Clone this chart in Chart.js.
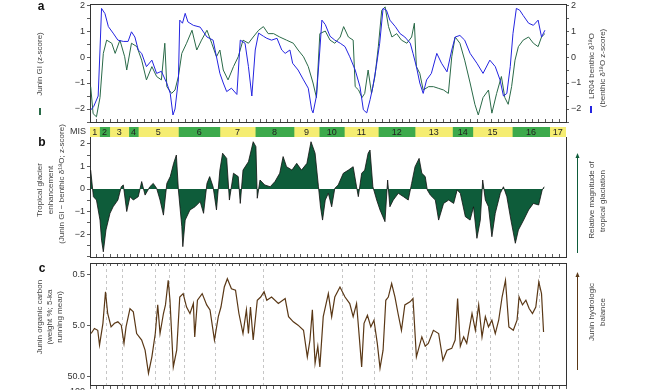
<!DOCTYPE html>
<html>
<head>
<meta charset="utf-8">
<script src="https://cdn.jsdelivr.net/npm/chart.js@4.4.0/dist/chart.umd.min.js"></script>
<style>
  body { margin: 0; background: #fff; }
  #wrap { position: relative; width: 650px; height: 390px; background: #fff; overflow: hidden; }
  #wrap canvas { position: absolute; left: 0; }
</style>
</head>
<body>
<div id="wrap">
  <canvas id="chartA" width="650" height="127" style="top:0px"></canvas>
  <canvas id="chartM" width="650" height="10" style="top:127px"></canvas>
  <canvas id="chartB" width="650" height="148" style="top:112px"></canvas>
  <canvas id="chartC" width="650" height="130" style="top:260px"></canvas>
</div>
<script>
// ---- data (age in ka) ----
// panel a: Junin glacial index (z-score)
var giKa = [1, 4.6, 9.5, 14.7, 19.6, 24.5, 32, 37, 44, 51, 54, 61, 69, 76, 83, 91, 98, 105, 110, 113, 120, 125, 130, 135, 142, 150, 157, 164, 172, 179, 186, 191, 196, 203, 211, 218, 225, 233, 240, 248, 255, 262, 270, 279, 289, 299, 306, 314, 321, 328, 333, 338, 346, 353, 360, 368, 373, 380, 387, 390, 395, 400, 404, 409, 414, 419, 424, 429, 434, 439, 444, 451, 458, 466, 473, 477, 480, 485, 490, 498, 505, 512, 520, 527, 532, 537, 544, 551, 559, 566, 571, 578, 586, 591, 598, 605, 610, 615, 620, 625, 630, 637, 645, 652, 659, 664, 669];
var giZ = [-1.14, -2.18, -2.3, -1.56, 0.14, 0.65, 0.53, 0.14, 0.65, 0.01, -0.5, 0.53, 0.4, -0.12, -0.88, -0.37, -0.75, -0.88, 0.53, -1.14, -1.4, -1.27, -0.75, 0.14, 0.53, 1.03, 0.27, 0.65, 1.03, 0.53, 0.01, 0.27, -0.5, -0.88, -0.37, 0.01, 0.65, 0.53, 0.77, 1.03, 1.17, 0.9, 0.9, 0.77, 0.65, 0.53, 0.27, 0.01, -0.37, -1.0, -1.56, 0.9, 1.0, 0.65, 0.53, 0.77, 1.17, 0.77, 0.65, -1.14, -1.27, -1.56, -1.4, -0.5, -1.4, -0.75, 0.4, 1.8, 1.93, 1.17, 0.77, 0.9, 0.65, 0.53, 0.77, 1.3, -0.37, -0.63, -1.27, -1.14, -1.14, -1.2, -1.27, -1.4, 0.01, 0.77, 0.53, -0.12, -1.0, -1.82, -2.23, -1.56, -1.27, -2.16, -1.4, -0.75, -1.56, -1.82, -1.14, -0.12, 0.4, 0.65, 0.77, 0.53, 0.4, 0.77, 0.9];

// panel a: LR04 benthic d18O (z-score)
var lrKa = [1, 5.5, 12, 14.7, 17, 22, 27, 34, 41, 49, 56, 61, 66, 71, 76, 83, 91, 98, 105, 113, 118, 122, 125, 130, 132, 136, 140, 144, 152, 162, 172, 181, 191, 196, 201, 208, 216, 221, 228, 233, 238, 243, 248, 255, 260, 267, 275, 282, 287, 294, 298, 306, 314, 321, 326, 328, 333, 338, 341, 346, 353, 360, 368, 375, 382, 390, 397, 402, 407, 412, 416, 421, 426, 431, 436, 441, 449, 456, 463, 471, 475, 480, 485, 490, 495, 502, 510, 517, 525, 532, 537, 544, 551, 559, 569, 578, 588, 596, 603, 608, 613, 618, 622, 627, 632, 637, 645, 652, 659, 664, 669];
var lrZ = [-2.04, -1.9, -1.5, 0.27, 1.87, 1.67, 1.17, 0.92, 0.65, 0.6, 0.6, 0.97, 0.77, 0.27, 0.14, -0.37, -0.12, -0.63, -0.55, -1.01, -1.4, -2.23, -2.0, -0.88, 1.42, 1.3, 1.68, 1.35, 1.22, 1.15, 0.77, 0.65, -0.63, -1.0, -1.33, -1.2, -1.44, 0.65, 0.53, -0.37, -1.5, 0.27, 0.92, 0.8, 0.72, 0.65, 0.72, 0.27, 0.14, 0.27, -0.24, -0.5, -0.88, -1.2, -2.03, -2.15, -1.5, 0.27, 1.42, 1.25, 0.8, 0.65, 0.53, 0.4, 0.01, -0.5, -1.14, -2.03, -2.15, -1.63, -1.14, -0.37, 0.53, 1.87, 1.8, 1.42, 1.17, 0.9, 0.77, 0.53, 0.14, -0.37, -1.0, -1.4, -0.88, -0.63, 0.14, -0.24, -0.57, 0.27, 0.77, 0.83, 0.65, 0.14, -0.24, -0.63, -0.12, -0.37, -0.88, -1.5, -1.4, -0.37, 0.9, 1.87, 1.8, 1.6, 1.3, 1.22, 1.42, 0.77, 1.03];

// panel b: tropical glacier enhancement (Junin GI - benthic d18O)
var enhKa = [1, 5, 9.5, 14.7, 17, 19.6, 23.5, 29.4, 34, 41, 46, 49, 54, 58.8, 63.7, 71, 76, 81, 88, 93, 98, 103, 108, 113, 118, 123, 127, 130, 135, 136.5, 140, 147, 154.4, 162, 167, 172, 176, 181, 186, 191, 195, 201, 205, 211, 218, 221, 225, 233, 240, 244, 246, 250, 257, 265, 272, 279, 284, 289, 297, 304, 311, 319, 325, 331, 336, 339, 342, 346, 350.5, 355.4, 360, 365, 372.5, 380, 387, 392, 394.6, 399.5, 404, 409, 411.8, 416, 421.6, 426.5, 433.8, 437.7, 441, 446, 453.4, 461, 468, 473, 478, 484, 488, 493, 496, 500.5, 507.8, 512.7, 520, 527.5, 534.8, 540, 544.6, 552, 559, 564, 569, 574, 577.5, 581.4, 586, 591, 596, 603.4, 608, 613, 619, 625.5, 630, 637.7, 645, 652, 659.8, 665, 668];
var enhZ = [0.84, -0.34, -0.49, -1.38, -2.27, -2.79, -1.82, -1.08, -0.79, -0.49, 0.1, 0.18, -1.0, -0.34, -0.49, -0.34, 0.33, -0.27, 0.1, 0.25, 0.03, -0.49, -1.16, 0.25, 0.55, 1.14, 1.51, -0.04, -1.67, -2.56, -1.38, -0.93, -0.79, -0.56, -1.08, 0.25, 0.55, 0.1, -0.93, 0.84, 1.59, 1.36, -0.49, 0.7, 0.55, -0.64, 0.84, 1.21, 2.1, 1.88, -0.41, 0.4, 0.18, 0.1, 0.33, 0.7, 1.44, 0.99, 0.84, 1.14, 0.84, 1.14, 2.1, 1.59, 0.1, -0.8, -1.38, -0.49, -0.19, -0.79, 0.03, 0.18, 0.7, 0.84, 0.99, 0.1, -0.34, 0.7, 0.84, 1.59, 1.73, 0.1, -0.49, -0.93, -1.45, 0.4, -0.79, -0.49, -0.19, -0.34, -0.49, 0.25, 0.99, 1.36, 0.7, 0.55, -0.04, -0.27, -0.49, -1.38, -0.64, -0.49, -0.64, -0.04, -0.19, -1.23, -1.38, -0.79, -2.19, -1.38, 0.4, -0.49, -0.79, -2.12, -1.08, -0.19, 0.1, -0.34, -1.38, -2.41, -1.82, -1.38, -0.93, -0.64, -0.71, -0.04, 0.1];

// panel c: Junin organic carbon (weight %, 5-ka running mean)
var tocKa = [1.6, 6.5, 11.4, 14, 19, 22.8, 26, 31, 36, 41, 46, 50, 53, 58.8, 63.7, 68.6, 76, 81, 86, 91, 96, 99.6, 103, 108, 111, 115, 117.6, 122.5, 127.5, 132, 137, 142, 147, 152, 154, 158, 165, 171.6, 176.5, 183, 188.7, 192.6, 197.5, 202, 208, 214, 219, 225, 230, 233, 236, 240, 246, 251, 256, 260, 267, 277, 287, 292, 299, 306, 314, 319.6, 323.5, 327, 331, 335, 338, 343, 350.5, 355.4, 360, 367.6, 375, 382, 387, 392, 396, 399.5, 403, 408, 413, 417.6, 422.5, 426.5, 431, 435, 438.7, 443.6, 448.5, 453, 458, 463, 470.6, 475, 480, 488, 493, 497.5, 505, 512.7, 519, 525, 532, 537, 540.6, 544.6, 549.5, 554, 561.8, 566.7, 571.6, 576.5, 581.4, 586, 591, 596, 601, 606, 611, 616, 622.5, 628, 631, 636, 641, 645.8, 650.7, 655.6, 660, 664, 667];
var tocWt = [7.3, 5.8, 6.3, 12.3, 4.6, 1.1, 2.95, 5.4, 4.6, 4.3, 5.0, 11.4, 5.4, 2.36, 2.74, 7.3, 9.8, 15.5, 44, 21, 7.3, 2.0, 7.3, 2.95, 2.0, 0.66, 1.62, 33, 15.5, 1.4, 1.2, 2.2, 2.95, 1.88, 8.5, 1.62, 1.2, 2.0, 2.5, 9.8, 3.4, 2.2, 0.89, 0.61, 0.96, 1.03, 2.95, 7.3, 2.5, 7.3, 2.2, 9.8, 1.62, 1.4, 1.1, 1.62, 1.4, 1.88, 1.5, 3.4, 4.3, 5.0, 6.3, 21, 9.8, 2.5, 28, 13, 33, 3.4, 1.2, 3.4, 1.4, 0.89, 1.4, 1.88, 3.4, 1.88, 8.5, 33, 4.6, 3.2, 5.4, 4.0, 11.4, 35, 15.5, 1.62, 1.4, 0.76, 1.4, 2.95, 6.3, 2.0, 1.74, 1.5, 21, 8.5, 13, 11.4, 6.3, 7.3, 24.5, 15.5, 14.3, 9.8, 1.5, 13, 8.5, 11.4, 2.95, 6.3, 2.0, 8.5, 3.4, 5.4, 4.0, 7.3, 4.0, 1.4, 0.66, 5.4, 6.3, 4.0, 1.4, 2.0, 1.62, 2.36, 2.95, 2.2, 0.71, 1.2, 6.8];

// dashed reference lines in panel c (ka)
var termKa = [23.5, 47.5, 96, 116.6, 138.7, 183.8, 254, 370, 417, 473, 494, 567, 588, 630, 660];

// marine isotope stages
var misBounds = [0, 14, 29, 57, 71, 130, 191, 243, 300, 337, 374, 424, 478, 533, 563, 621, 676, 700];
var misNames = ['1', '2', '3', '4', '5', '6', '7', '8', '9', '10', '11', '12', '13', '14', '15', '16', '17'];

// ticks
var ageTicks = [];
for (var a = 0; a <= 700; a += 10) ageTicks.push(a);
var zTicksA = [-2.5, -2, -1.5, -1, -0.5, 0, 0.5, 1, 1.5, 2];
var zLabelsA = [-2, -1, 0, 1, 2];
var zTicksB = [-3, -2.5, -2, -1.5, -1, -0.5, 0, 0.5, 1, 1.5, 2];
var zLabelsB = [-2, -1, 0, 1, 2];
var tocTicks = [0.5, 5, 50];

// ---- styles ----
var FONT = '"Liberation Sans", Arial, sans-serif';
var AXIS = '#333';
var GI_GREEN = '#2a6a48';
var LR_BLUE = '#2424e0';
var FILL_GREEN = '#0e5c3a';
var BROWN = '#5a3816';
var MIS_YELLOW = '#f5ed72';
var MIS_GREEN = '#3daa4c';

Chart.defaults.font.family = FONT;
Chart.defaults.font.size = 9;
Chart.defaults.color = AXIS;

function pts(xs, ys) {
    return xs.map(function (x, i) { return { x: x, y: ys[i] }; });
}

function fmt(v) {
    return v < 0 ? '\u2212' + Math.abs(v) : String(v);
}

// side texts, arrows, swatches - coordinates are canvas coordinates
var decor = {
    chartA: [
        { text: 'a', x: 41, y: 7, font: 'bold 12px ' + FONT, color: '#111' },
        { text: 'Junin GI (z-score)', x: 40, y: 64, rot: -90 },
        { type: 'swatch', x: 40, y: 108, h: 7, color: GI_GREEN },
        { text: 'LR04 benthic \u03b4\u00b9\u2078O', x: 592, y: 66, rot: -90 },
        { text: '(benthic \u03b4\u00b9\u2078O z-score)', x: 603, y: 68, rot: -90 },
        { type: 'swatch', x: 591, y: 106, h: 7, color: LR_BLUE }
    ],
    chartM: [
        { text: 'MIS', x: 78, y: 5, font: '9px ' + FONT, color: '#333' }
    ],
    // canvas b starts at page y = 112
    chartB: [
        { text: 'b', x: 42, y: 31, font: 'bold 12px ' + FONT, color: '#111' },
        { text: 'Tropical glacier', x: 40, y: 78, rot: -90 },
        { text: 'enhancement', x: 51, y: 78, rot: -90 },
        { text: '(Junin GI \u2212 benthic \u03b4\u00b9\u2078O; z-score)', x: 62, y: 72, rot: -90 },
        { type: 'arrow', x: 577, y1: 141, y2: 41, color: FILL_GREEN },
        { text: 'Relative magnitude of', x: 592, y: 88, rot: -90 },
        { text: 'tropical glaciation', x: 603, y: 89, rot: -90 }
    ],
    // canvas c starts at page y = 260
    chartC: [
        { text: 'c', x: 42, y: 9, font: 'bold 12px ' + FONT, color: '#111' },
        { text: 'Junin organic carbon', x: 40, y: 57, rot: -90 },
        { text: '(weight %; 5-ka', x: 50, y: 57, rot: -90 },
        { text: 'running mean)', x: 60, y: 57, rot: -90 },
        { text: '100', x: 85, y: 132, align: 'right', font: '9px ' + FONT, color: AXIS },
        { type: 'arrow', x: 577, y1: 110, y2: 12, color: BROWN },
        { text: 'Junin hydrologic', x: 592, y: 52, rot: -90 },
        { text: 'balance', x: 603, y: 52, rot: -90 }
    ]
};

var sideText = {
    id: 'sideText',
    afterDraw: function (chart) {
        var ctx = chart.ctx;
        (decor[chart.canvas.id] || []).forEach(function (t) {
            ctx.save();
            if (t.type === 'arrow') {
                ctx.strokeStyle = t.color;
                ctx.fillStyle = t.color;
                ctx.lineWidth = 1;
                ctx.beginPath();
                ctx.moveTo(t.x + 0.5, t.y1);
                ctx.lineTo(t.x + 0.5, t.y2 + 3);
                ctx.stroke();
                ctx.beginPath();
                ctx.moveTo(t.x + 0.5, t.y2);
                ctx.lineTo(t.x - 1.5, t.y2 + 5);
                ctx.lineTo(t.x + 2.5, t.y2 + 5);
                ctx.closePath();
                ctx.fill();
            } else if (t.type === 'swatch') {
                ctx.fillStyle = t.color;
                ctx.fillRect(t.x - 1, t.y, 2, t.h);
            } else {
                ctx.translate(t.x, t.y);
                ctx.rotate((t.rot || 0) * Math.PI / 180);
                ctx.font = t.font || ('8px ' + FONT);
                ctx.fillStyle = t.color || '#444';
                ctx.textAlign = t.align || 'center';
                ctx.textBaseline = 'middle';
                ctx.fillText(t.text, 0, 0);
            }
            ctx.restore();
        });
    }
};

// dashed vertical lines (panel c)
var termLines = {
    id: 'termLines',
    beforeDatasetsDraw: function (chart) {
        if (chart.canvas.id !== 'chartC') return;
        var ctx = chart.ctx, area = chart.chartArea, xs = chart.scales.x;
        ctx.save();
        ctx.strokeStyle = '#b8b8b8';
        ctx.lineWidth = 0.8;
        ctx.setLineDash([3, 3]);
        termKa.forEach(function (k) {
            var px = Math.round(xs.getPixelForValue(k)) + 0.5;
            ctx.beginPath();
            ctx.moveTo(px, area.top);
            ctx.lineTo(px, area.bottom);
            ctx.stroke();
        });
        ctx.restore();
    }
};

// MIS numbers on the band
var misLabels = {
    id: 'misLabels',
    afterDatasetsDraw: function (chart) {
        var ctx = chart.ctx, xs = chart.scales.x, area = chart.chartArea;
        ctx.save();
        ctx.font = '9px ' + FONT;
        ctx.fillStyle = '#222';
        ctx.textAlign = 'center';
        ctx.textBaseline = 'middle';
        misNames.forEach(function (n, i) {
            var mid = (misBounds[i] + misBounds[i + 1]) / 2;
            ctx.fillText(n, xs.getPixelForValue(mid), (area.top + area.bottom) / 2 + 0.5);
        });
        ctx.restore();
    }
};

// ---- axis builders ----
function ageAxis(position, tickLen, height) {
    return {
        type: 'linear', position: position, min: 0, max: 700,
        afterBuildTicks: function (s) { s.ticks = ageTicks.map(function (v) { return { value: v }; }); },
        ticks: { display: false, autoSkip: false },
        grid: { drawOnChartArea: false, drawTicks: tickLen !== 0, tickLength: tickLen, color: AXIS, lineWidth: 0.8 },
        border: { display: true, color: AXIS, width: 1 },
        afterFit: function (s) { s.height = height; s.paddingLeft = 0; s.paddingRight = 0; }
    };
}

function zAxis(position, min, max, tickList, labelList, width) {
    return {
        type: 'linear', position: position, min: min, max: max,
        afterBuildTicks: function (s) { s.ticks = tickList.map(function (v) { return { value: v }; }); },
        ticks: {
            autoSkip: false, padding: 2, color: AXIS, font: { size: 9 },
            callback: function (v) { return labelList.indexOf(v) >= 0 ? fmt(v) : ''; }
        },
        grid: { drawOnChartArea: false, tickLength: 3, color: AXIS, lineWidth: 0.8 },
        border: { display: true, color: AXIS, width: 1 },
        afterFit: function (s) { s.width = width; s.paddingTop = 0; s.paddingBottom = 0; }
    };
}

function plainAxis(position, width) {
    return {
        type: 'linear', position: position, display: true,
        ticks: { display: false },
        grid: { display: false },
        border: { display: true, color: AXIS, width: 1 },
        afterFit: function (s) { s.width = width; s.paddingTop = 0; s.paddingBottom = 0; }
    };
}

function baseOptions(pad) {
    return {
        responsive: false,
        animation: false,
        events: [],
        layout: { padding: pad },
        plugins: { legend: { display: false }, tooltip: { enabled: false } },
        elements: { point: { radius: 0 }, line: { tension: 0 } }
    };
}

// ---- panel a ----
var optA = baseOptions({ top: 4, left: 0, right: 0, bottom: 0 });
optA.scales = {
    x: ageAxis('bottom', -3, 5),
    xt: ageAxis('top', 0, 0),
    y: zAxis('left', -2.5, 2.04, zTicksA, zLabelsA, 90),
    yR: zAxis('right', -2.5, 2.04, zTicksA, zLabelsA, 84)
};
new Chart(document.getElementById('chartA'), {
    type: 'line',
    data: {
        datasets: [
            { label: 'LR04 benthic', data: pts(lrKa, lrZ), yAxisID: 'yR', borderColor: LR_BLUE, borderWidth: 1 },
            { label: 'Junin GI', data: pts(giKa, giZ), yAxisID: 'y', borderColor: GI_GREEN, borderWidth: 1 }
        ]
    },
    options: optA,
    plugins: [sideText]
});

// ---- MIS band ----
var optM = baseOptions({ top: 0, left: 90, right: 84, bottom: 0 });
optM.indexAxis = 'y';
optM.scales = {
    x: { type: 'linear', min: 0, max: 700, display: false },
    y: { display: false }
};
new Chart(document.getElementById('chartM'), {
    type: 'bar',
    data: {
        labels: ['MIS'],
        datasets: misNames.map(function (n, i) {
            return {
                label: 'MIS ' + n,
                data: [[misBounds[i], misBounds[i + 1]]],
                backgroundColor: i % 2 === 0 ? MIS_YELLOW : MIS_GREEN,
                borderWidth: 0,
                barPercentage: 1,
                categoryPercentage: 1,
                grouped: false
            };
        })
    },
    options: optM,
    plugins: [misLabels, sideText]
});

// ---- panel b ----
var optB = baseOptions({ top: 25, left: 0, right: 0, bottom: 0 });
optB.scales = {
    x: ageAxis('bottom', -3, 3),
    y: zAxis('left', -3.02, 2.31, zTicksB, zLabelsB, 90),
    yR: plainAxis('right', 84)
};
new Chart(document.getElementById('chartB'), {
    type: 'line',
    data: {
        datasets: [
            {
                label: 'Tropical glacier enhancement', data: pts(enhKa, enhZ), yAxisID: 'y',
                borderColor: '#111', borderWidth: 0.8, backgroundColor: FILL_GREEN, fill: 'origin'
            }
        ]
    },
    options: optB,
    plugins: [sideText]
});

// ---- panel c ----
var optC = baseOptions({ top: 3, left: 0, right: 0, bottom: 0 });
optC.scales = {
    x: ageAxis('bottom', 4, 5),
    xt: ageAxis('top', -3, 0),
    y: {
        type: 'logarithmic', position: 'left', min: 0.304, max: 75, reverse: true,
        afterBuildTicks: function (s) { s.ticks = tocTicks.map(function (v) { return { value: v }; }); },
        ticks: {
            autoSkip: false, padding: 2, color: AXIS, font: { size: 9 },
            callback: function (v) { return Number(v).toFixed(1); }
        },
        grid: { drawOnChartArea: false, tickLength: 3, color: AXIS, lineWidth: 0.8 },
        border: { display: true, color: AXIS, width: 1 },
        afterFit: function (s) { s.width = 90; s.paddingTop = 0; s.paddingBottom = 0; }
    },
    yR: plainAxis('right', 84)
};
new Chart(document.getElementById('chartC'), {
    type: 'line',
    data: {
        datasets: [
            { label: 'Junin organic carbon', data: pts(tocKa, tocWt), yAxisID: 'y', borderColor: BROWN, borderWidth: 1.2 }
        ]
    },
    options: optC,
    plugins: [termLines, sideText]
});
</script>
</body>
</html>
